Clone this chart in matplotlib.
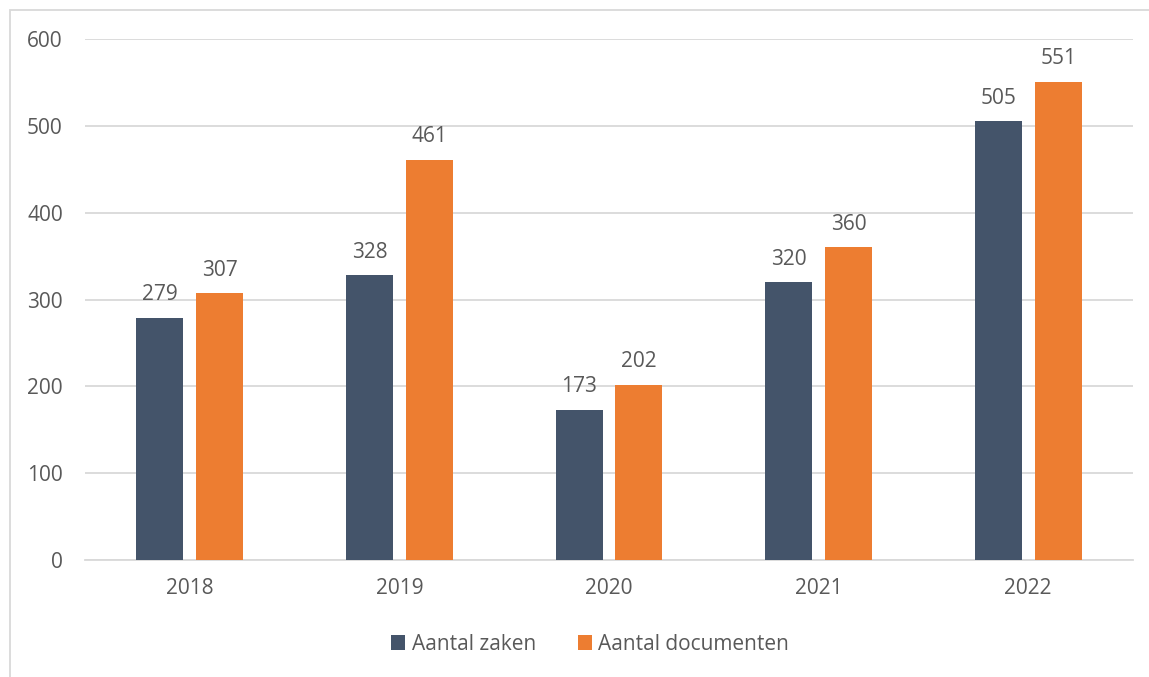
import numpy as np
import matplotlib.pyplot as plt
from matplotlib.patches import Rectangle

years = ['2018', '2019', '2020', '2021', '2022']
zaken = [279, 328, 173, 320, 505]
documenten = [307, 461, 202, 360, 551]

plt.rcParams['font.family'] = ['Open Sans', 'DejaVu Sans']
text_color = '#595959'
grid_color = '#d9d9d9'

fig = plt.figure(figsize=(11.49, 6.77), dpi=100)
ax = fig.add_axes([85/1149, 1 - 560/677, 1048/1149, 521/677])

x = np.arange(len(years))
w = 0.224
off = 0.143
b1 = ax.bar(x - off, zaken, w, color='#44546A', label='Aantal zaken', zorder=3)
b2 = ax.bar(x + off, documenten, w, color='#ED7D31', label='Aantal documenten', zorder=3)

for bars in (b1, b2):
    ax.bar_label(bars, padding=9, fontsize=15, color=text_color)

ax.set_xlim(-0.5, len(years) - 0.5)
ax.set_ylim(0, 600)
ax.set_yticks(range(0, 601, 100))
ax.set_xticks(x)
ax.set_xticklabels(years)
ax.grid(axis='y', color=grid_color, linewidth=1.3, zorder=0)
for s in ['top', 'right', 'left']:
    ax.spines[s].set_visible(False)
ax.spines['bottom'].set_color(grid_color)
ax.spines['bottom'].set_linewidth(1.3)
ax.tick_params(axis='both', length=0, labelsize=15, labelcolor=text_color)
ax.tick_params(axis='y', pad=16)
ax.tick_params(axis='x', pad=13)

ax.legend(loc='center', bbox_to_anchor=(590/1149, 1 - 644/677),
          bbox_transform=fig.transFigure, ncol=2, frameon=False,
          fontsize=15, labelcolor=text_color, handlelength=0.7,
          handleheight=0.7, handletextpad=0.3, columnspacing=2.0)

# outer chart frame
fig.patches.append(Rectangle((10/1149, -0.1), 1.2, 1 - 10/677 + 0.1,
                             transform=fig.transFigure, fill=False,
                             edgecolor=grid_color, linewidth=1.3))

plt.savefig('out.png', dpi=100)
